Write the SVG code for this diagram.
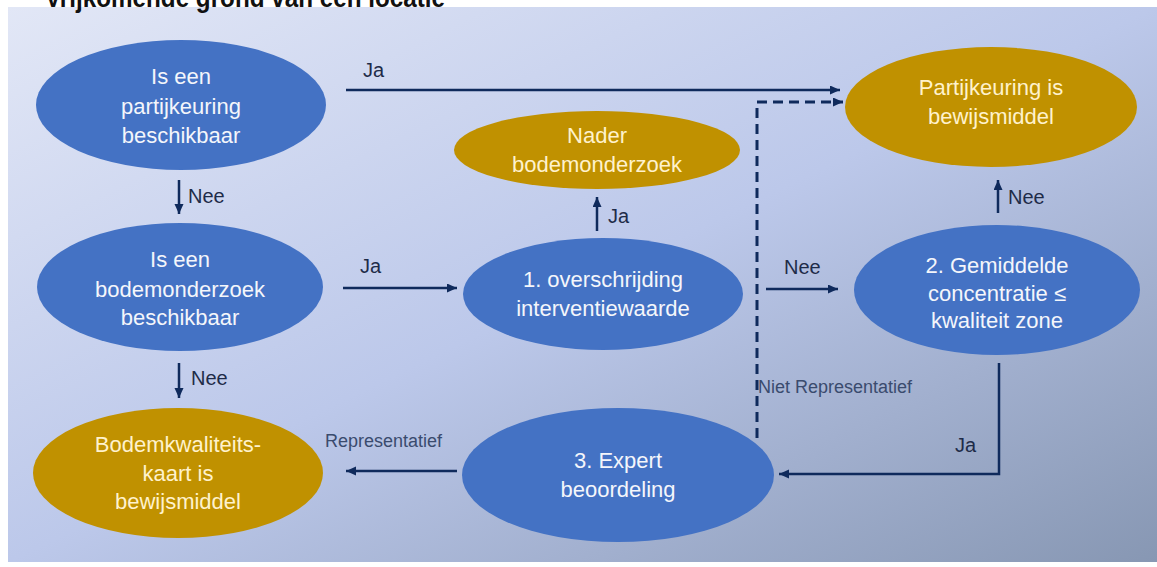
<svg xmlns="http://www.w3.org/2000/svg" width="1157" height="567" viewBox="0 0 1157 567">
  <defs>
    <linearGradient id="bg" x1="0" y1="0" x2="1" y2="1">
      <stop offset="0" stop-color="#e2e7f6"/>
      <stop offset="0.5" stop-color="#bcc8ea"/>
      <stop offset="1" stop-color="#8797b3"/>
    </linearGradient>
    <marker id="arr" markerUnits="userSpaceOnUse" markerWidth="12" markerHeight="10" refX="10" refY="4.5" orient="auto">
      <path d="M0,0 L10,4.5 L0,9 Z" fill="#0f2a5c"/>
    </marker>
    <style>
      .blue { fill: #4472c4; }
      .gold { fill: #c09100; }
      .nt { font-family: "Liberation Sans", Arial, sans-serif; font-size: 22px; text-anchor: middle; }
      .wt { fill: #f4f6fb; }
      .yt { fill: #fff2cc; }
      .lbl { font-family: "Liberation Sans", Arial, sans-serif; font-size: 20px; fill: #1e2b48; }
      .slbl { font-family: "Liberation Sans", Arial, sans-serif; font-size: 18px; fill: #3a4b6e; }
      .con { fill: none; stroke: #0f2a5c; stroke-width: 2.5; }
      .dash { fill: none; stroke: #0f2a5c; stroke-width: 3; stroke-dasharray: 10 6; }
    </style>
  </defs>

  <rect x="0" y="0" width="1157" height="567" fill="#ffffff"/>
  <rect x="8" y="7" width="1149" height="555" fill="url(#bg)"/>
  <text x="45" y="7" font-family="'Liberation Sans', Arial, sans-serif" font-size="28" font-weight="bold" fill="#111111" textLength="400" lengthAdjust="spacingAndGlyphs">Vrijkomende grond van een locatie</text>

  <g id="connectors">
    <path class="con" d="M346,90 H840" marker-end="url(#arr)"/>
    <path class="con" d="M179,180 V214" marker-end="url(#arr)"/>
    <path class="con" d="M343,288 H457" marker-end="url(#arr)"/>
    <path class="con" d="M179,363 V398" marker-end="url(#arr)"/>
    <path class="con" d="M597,231 V197" marker-end="url(#arr)"/>
    <path class="con" d="M766,289 H838" marker-end="url(#arr)"/>
    <path class="con" d="M998,213 V180" marker-end="url(#arr)"/>
    <path class="con" d="M999,363 V474 H779" marker-end="url(#arr)"/>
    <path class="con" d="M457,471 H346" marker-end="url(#arr)"/>
    <path class="dash" d="M757,438 V102 H843" marker-end="url(#arr)"/>
    <text class="lbl" x="363" y="77">Ja</text>
    <text class="lbl" x="188" y="203">Nee</text>
    <text class="lbl" x="360" y="273">Ja</text>
    <text class="lbl" x="191" y="385">Nee</text>
    <text class="lbl" x="608" y="223">Ja</text>
    <text class="lbl" x="784" y="274">Nee</text>
    <text class="lbl" x="1008" y="204">Nee</text>
    <text class="lbl" x="955" y="452">Ja</text>
    <text class="slbl" x="325" y="447">Representatief</text>
    <text class="slbl" x="758" y="393">Niet Representatief</text>
  </g>

  <g id="n-partijkeuring">
    <ellipse class="blue" cx="181" cy="105" rx="145" ry="65"/>
    <text class="nt wt" x="181" y="84">Is een</text>
    <text class="nt wt" x="181" y="114">partijkeuring</text>
    <text class="nt wt" x="181" y="143">beschikbaar</text>
  </g>
  <g id="n-bodemonderzoek">
    <ellipse class="blue" cx="180" cy="287" rx="143" ry="64"/>
    <text class="nt wt" x="180" y="267">Is een</text>
    <text class="nt wt" x="180" y="297">bodemonderzoek</text>
    <text class="nt wt" x="180" y="325">beschikbaar</text>
  </g>
  <g id="n-bodemkwaliteitskaart">
    <ellipse class="gold" cx="178" cy="473" rx="145" ry="65"/>
    <text class="nt yt" x="178" y="452">Bodemkwaliteits-</text>
    <text class="nt yt" x="178" y="481">kaart is</text>
    <text class="nt yt" x="178" y="509">bewijsmiddel</text>
  </g>
  <g id="n-nader">
    <ellipse class="gold" cx="597" cy="150" rx="143" ry="39"/>
    <text class="nt yt" x="597" y="143">Nader</text>
    <text class="nt yt" x="597" y="172">bodemonderzoek</text>
  </g>
  <g id="n-overschrijding">
    <ellipse class="blue" cx="603" cy="294" rx="140" ry="56"/>
    <text class="nt wt" x="603" y="287">1. overschrijding</text>
    <text class="nt wt" x="603" y="316">interventiewaarde</text>
  </g>
  <g id="n-expert">
    <ellipse class="blue" cx="618" cy="475" rx="156" ry="67"/>
    <text class="nt wt" x="618" y="468">3. Expert</text>
    <text class="nt wt" x="618" y="497">beoordeling</text>
  </g>
  <g id="n-partijkeuring-bewijs">
    <ellipse class="gold" cx="991" cy="107" rx="146" ry="60"/>
    <text class="nt yt" x="991" y="95">Partijkeuring is</text>
    <text class="nt yt" x="991" y="124">bewijsmiddel</text>
  </g>
  <g id="n-gemiddelde">
    <ellipse class="blue" cx="997" cy="290" rx="143" ry="65"/>
    <text class="nt wt" x="997" y="273">2. Gemiddelde</text>
    <text class="nt wt" x="997" y="301">concentratie ≤</text>
    <text class="nt wt" x="997" y="328">kwaliteit zone</text>
  </g>
</svg>
